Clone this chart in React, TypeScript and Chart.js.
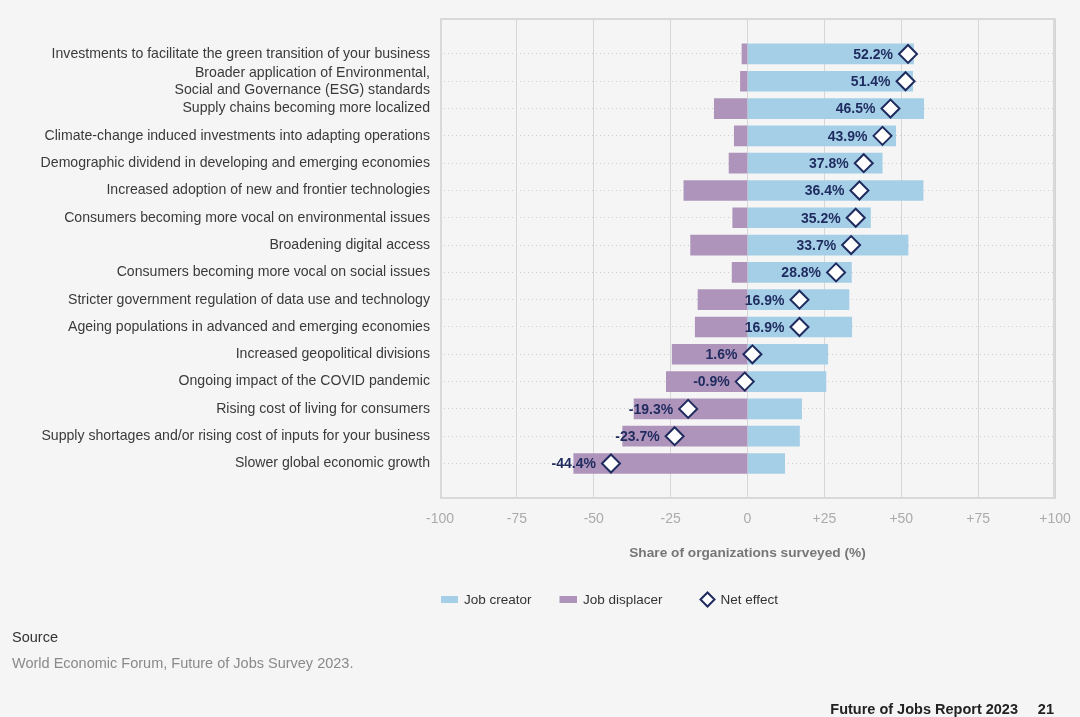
import React, { useEffect, useRef } from 'react';
import { Chart, registerables } from 'chart.js';
Chart.register(...registerables);

const categories: (string | string[])[] = [
  'Investments to facilitate the green transition of your business',
  ['Broader application of Environmental,', 'Social and Governance (ESG) standards'],
  'Supply chains becoming more localized',
  'Climate-change induced investments into adapting operations',
  'Demographic dividend in developing and emerging economies',
  'Increased adoption of new and frontier technologies',
  'Consumers becoming more vocal on environmental issues',
  'Broadening digital access',
  'Consumers becoming more vocal on social issues',
  'Stricter government regulation of data use and technology',
  'Ageing populations in advanced and emerging economies',
  'Increased geopolitical divisions',
  'Ongoing impact of the COVID pandemic',
  'Rising cost of living for consumers',
  'Supply shortages and/or rising cost of inputs for your business',
  'Slower global economic growth',
];
const jobCreator = [54.0, 53.7, 57.3, 48.2, 43.8, 57.1, 40.0, 52.2, 33.8, 33.0, 33.9, 26.1, 25.5, 17.6, 16.9, 12.1];
const jobDisplacer = [-1.8, -2.3, -10.8, -4.3, -6.0, -20.7, -4.8, -18.5, -5.0, -16.1, -17.0, -24.5, -26.4, -36.9, -40.6, -56.5];
const netEffect = [52.2, 51.4, 46.5, 43.9, 37.8, 36.4, 35.2, 33.7, 28.8, 16.9, 16.9, 1.6, -0.9, -19.3, -23.7, -44.4];
const xTicks = [-100, -75, -50, -25, 0, 25, 50, 75, 100];
const seriesNames = ['Job creator', 'Job displacer', 'Net effect'];
const axisTitle = 'Share of organizations surveyed (%)';
const sourceTitle = 'Source';
const sourceText = 'World Economic Forum, Future of Jobs Survey 2023.';
const footerText = 'Future of Jobs Report 2023';
const pageNumber = '21';

const BLUE = '#a4cfe7';
const PURPLE = '#ae94bb';
const NAVY = '#1f2b5e';
const FONT = "'Liberation Sans', Arial, Helvetica, sans-serif";

function drawDiamond(ctx: CanvasRenderingContext2D, x: number, y: number, r: number) {
  ctx.save();
  ctx.beginPath();
  ctx.moveTo(x - r, y);
  ctx.lineTo(x, y - r);
  ctx.lineTo(x + r, y);
  ctx.lineTo(x, y + r);
  ctx.closePath();
  ctx.fillStyle = '#ffffff';
  ctx.fill();
  ctx.lineWidth = 2;
  ctx.strokeStyle = NAVY;
  ctx.stroke();
  ctx.restore();
}

const framePlugin = {
  id: 'frame',
  beforeDatasetsDraw(chart: any) {
    const { ctx, chartArea } = chart;
    ctx.save();
    ctx.strokeStyle = '#d9d9d9';
    ctx.lineWidth = 2;
    ctx.strokeRect(Math.round(chartArea.left) + 1, Math.round(chartArea.top) + 1,
      Math.round(chartArea.right - chartArea.left) - 2, Math.round(chartArea.bottom - chartArea.top) - 2);
    ctx.restore();
  },
};

const labelPlugin = {
  id: 'netLabels',
  afterDatasetsDraw(chart: any) {
    const { ctx } = chart;
    const meta = chart.getDatasetMeta(2);
    ctx.save();
    ctx.font = `bold 14px ${FONT}`;
    ctx.fillStyle = NAVY;
    ctx.textAlign = 'right';
    ctx.textBaseline = 'middle';
    meta.data.forEach((pt: any, i: number) => {
      ctx.fillText(netEffect[i].toFixed(1) + '%', pt.x - 15, pt.y + 1);
    });
    ctx.restore();
  },
};

const extrasPlugin = {
  id: 'extras',
  afterDraw(chart: any) {
    const { ctx } = chart;
    ctx.save();
    ctx.font = `13.5px ${FONT}`;
    ctx.textBaseline = 'middle';
    ctx.textAlign = 'left';
    const ly = 600;
    ctx.fillStyle = BLUE;
    ctx.fillRect(441, ly - 4, 17, 7);
    ctx.fillStyle = '#333333';
    ctx.fillText(seriesNames[0], 464, ly);
    ctx.fillStyle = PURPLE;
    ctx.fillRect(559.5, ly - 4, 17.5, 7);
    ctx.fillStyle = '#333333';
    ctx.fillText(seriesNames[1], 583, ly);
    drawDiamond(ctx, 707.5, ly - 0.5, 7);
    ctx.fillStyle = '#333333';
    ctx.fillText(seriesNames[2], 720.5, ly);
    ctx.font = `14.5px ${FONT}`;
    ctx.fillStyle = '#333333';
    ctx.fillText(sourceTitle, 12, 638);
    ctx.fillStyle = '#8a8a8a';
    ctx.fillText(sourceText, 12, 664);
    ctx.font = `bold 14.5px ${FONT}`;
    ctx.fillStyle = '#222222';
    ctx.textAlign = 'right';
    ctx.fillText(footerText, 1018, 709.5);
    ctx.fillText(pageNumber, 1054, 709.5);
    ctx.restore();
  },
};

export default function App() {
  const ref = useRef<HTMLCanvasElement | null>(null);
  useEffect(() => {
    if (!ref.current) return;
    Chart.defaults.font.family = FONT;
    const idx = categories.map((_, i) => i);
    const chart = new Chart(ref.current, {
      type: 'bar',
      data: {
        datasets: [
          {
            label: seriesNames[0],
            data: jobCreator.map((v, i) => ({ x: v, y: i })) as any,
            backgroundColor: BLUE,
            barThickness: 20,
            grouped: false,
            order: 2,
          } as any,
          {
            label: seriesNames[1],
            data: jobDisplacer.map((v, i) => ({ x: v, y: i })) as any,
            backgroundColor: PURPLE,
            barThickness: 20,
            grouped: false,
            order: 1,
          } as any,
          {
            type: 'line',
            label: seriesNames[2],
            data: netEffect.map((v, i) => ({ x: v, y: i })) as any,
            showLine: false,
            pointStyle: 'rectRot',
            pointRadius: 9,
            pointHoverRadius: 9,
            pointBackgroundColor: '#ffffff',
            pointBorderColor: NAVY,
            pointBorderWidth: 2,
            borderColor: NAVY,
            backgroundColor: '#ffffff',
            order: 0,
            clip: false,
          } as any,
        ],
      },
      options: {
        indexAxis: 'y',
        animation: false,
        responsive: true,
        maintainAspectRatio: false,
        layout: { padding: { left: 0, top: 18, right: 25, bottom: 156 } },
        plugins: { legend: { display: false }, tooltip: { enabled: false } },
        scales: {
          y: {
            type: 'linear',
            reverse: true,
            min: -1.3,
            max: 16.3,
            offset: false,
            afterBuildTicks: (scale: any) => {
              scale.ticks = idx.map((v) => ({ value: v }));
            },
            afterFit: (scale: any) => {
              scale.width = 440;
            },
            ticks: {
              autoSkip: false,
              padding: 10,
              color: '#3a3a3a',
              font: { size: 14.1 },
              callback: (v: any) => categories[Math.round(Number(v))] as any,
            },
            grid: {
              offset: false,
              drawTicks: false,
              color: '#cdcdcd',
              lineWidth: 1,
            },
            border: { display: false, dash: [1, 3] },
          } as any,
          x: {
            type: 'linear',
            min: -100,
            max: 100,
            afterBuildTicks: (scale: any) => {
              scale.ticks = xTicks.map((v) => ({ value: v }));
            },
            afterFit: (scale: any) => {
              scale.height = 62;
            },
            ticks: {
              padding: 0,
              color: '#ababab',
              font: { size: 14 },
              callback: (v: any) => (Number(v) > 0 ? '+' + v : String(v)),
            },
            grid: { drawTicks: true, tickLength: 12, tickColor: 'rgba(0,0,0,0)', color: '#d6d6d6', lineWidth: 1 },
            border: { display: false },
            title: {
              display: true,
              text: axisTitle,
              color: '#777777',
              font: { size: 13.7, weight: 'bold' },
              padding: 0,
            },
          } as any,
        },
      },
      plugins: [framePlugin, labelPlugin, extrasPlugin],
    });
    return () => chart.destroy();
  }, []);
  return (
    <div style={{ position: 'fixed', left: 0, top: 0, width: 1080, height: 717, background: '#f5f5f5' }}>
      <canvas ref={ref} />
    </div>
  );
}
